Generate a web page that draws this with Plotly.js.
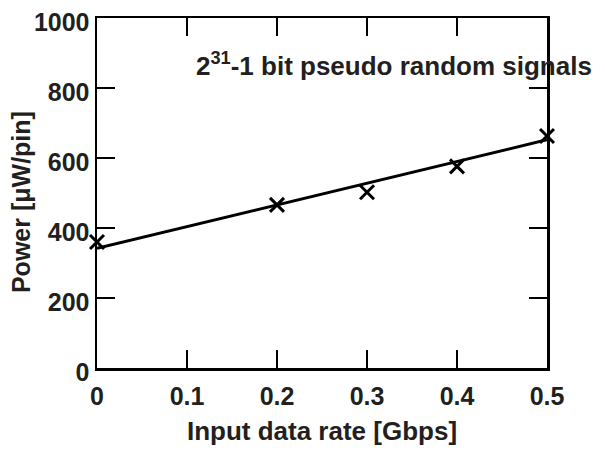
<!DOCTYPE html>
<html><head><meta charset="utf-8">
<script src="https://cdn.plot.ly/plotly-3.0.1.min.js"></script>
<style>html,body{margin:0;padding:0;background:#fff}</style>
</head><body>
<div id="chart" style="width:605px;height:450px"></div>
<script>
const dataRate = [0, 0.2, 0.3, 0.4, 0.5];
const power = [360, 466, 502, 576, 663];
const fitX = [0, 0.5];
const fitY = [342, 652];
const xTicks = [0, 0.1, 0.2, 0.3, 0.4, 0.5];
const xTickLabels = ['0', '0.1', '0.2', '0.3', '0.4', '0.5'];
const yTicks = [0, 200, 400, 600, 800, 1000];
const yTickLabels = ['0', '200', '400', '600', '800', '1000'];

const C = '#231f20';
const F = 'Liberation Sans, Arial, sans-serif';

const traces = [
  {x: fitX, y: fitY, mode: 'lines', line: {color: '#000', width: 3}, cliponaxis: false, hoverinfo: 'skip'},
  {x: dataRate, y: power, mode: 'markers', cliponaxis: false,
   marker: {symbol: 'x-thin', size: 14, line: {color: '#000', width: 3}}}
];

const axisCommon = {
  showgrid: false, zeroline: false, showline: true, linecolor: '#000', linewidth: 2.5,
  mirror: 'ticks', ticks: 'inside', ticklen: 18, tickwidth: 2, tickcolor: '#000',
  tickfont: {family: F, size: 25, color: C, weight: 'bold'}
};

const layout = {
  width: 605, height: 450,
  margin: {l: 97, r: 58, t: 18, b: 82},
  paper_bgcolor: '#fff', plot_bgcolor: '#fff',
  showlegend: false,
  font: {family: F, color: C},
  xaxis: Object.assign({}, axisCommon, {
    range: [0, 0.5], tickvals: xTicks, ticktext: xTickLabels, ticklabelstandoff: 4,
    title: {text: '<b>Input data rate [Gbps]</b>', font: {family: F, size: 26, color: C}, standoff: 14}
  }),
  yaxis: Object.assign({}, axisCommon, {
    range: [0, 1000], tickvals: yTicks, ticktext: yTickLabels, ticklabelshift: 4
  }),
  annotations: [{
    xref: 'paper', yref: 'paper', x: 0.216, y: 0.868, xanchor: 'left', yanchor: 'middle',
    text: '<b>2<sup>31</sup>-1 bit pseudo random signals</b>', showarrow: false,
    font: {family: F, size: 26, color: C}
  }, {
    xref: 'paper', yref: 'paper', x: -0.169, y: 0.474, xanchor: 'center', yanchor: 'middle',
    textangle: -90, text: '<b>Power [μW/pin]</b>', showarrow: false,
    font: {family: F, size: 25, color: C}
  }]
};

Plotly.newPlot('chart', traces, layout, {staticPlot: true});
</script>
</body></html>
